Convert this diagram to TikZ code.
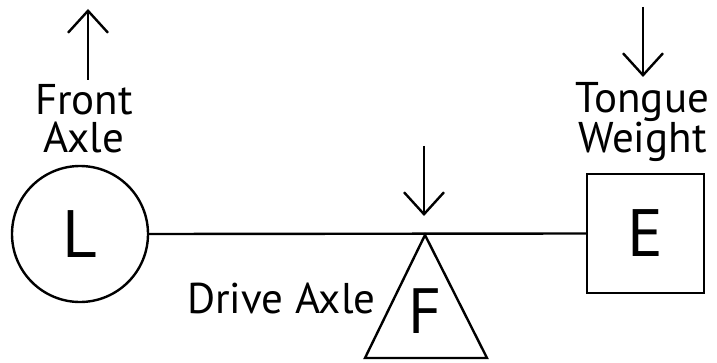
\documentclass[tikz,border=0pt]{standalone}
\usepackage{fontspec}
\setmainfont{PT Sans}
\usetikzlibrary{arrows.meta}
\begin{document}
\begin{tikzpicture}[x=1pt,y=1pt,line width=2.4pt,line join=miter,
  force/.style={-{Straight Barb[length=22pt,width=40pt,line width=2.4pt]}},
  labeltext/.style={font=\fontsize{43}{38}\selectfont,align=center,inner sep=0pt},
  bigletter/.style={font=\fontsize{67}{67}\selectfont,inner sep=0pt}]
\useasboundingbox (0,0) rectangle (717,362);
% supports on the beam
\node[draw,circle,minimum size=136pt,bigletter] (L) at (80,128) {L};
\node[draw,minimum width=117pt,minimum height=119pt,bigletter] (E) at (645.5,128.5) {E};
\coordinate (apex) at (425,127);
\coordinate (bl) at (365,4);
\coordinate (br) at (487,4);
\draw (apex) -- (br) -- (bl) -- cycle;
\node[bigletter,font=\fontsize{64}{64}\selectfont] (F) at (425,50.5) {F};
% beam
\draw (L.east) -- (E.west);
% loads
\coordinate (fa0) at (88,282);
\coordinate (fa1) at (88,353);
\draw[force] (fa0) -- (fa1);
\coordinate (da0) at (424,216);
\coordinate (da1) at (424,146);
\draw[force] (da0) -- (da1);
\coordinate (ta0) at (643,355);
\coordinate (ta1) at (643,285);
\draw[force] (ta0) -- (ta1);
% labels (base anchor sits on the last line)
\node[labeltext,anchor=base] (front) at (84,209) {Front\\Axle};
\node[labeltext,anchor=base] (tongue) at (642.5,209) {Tongue\\Weight};
\node[labeltext,anchor=base west] (drive) at (186,49) {Drive Axle};
\end{tikzpicture}
\end{document}
